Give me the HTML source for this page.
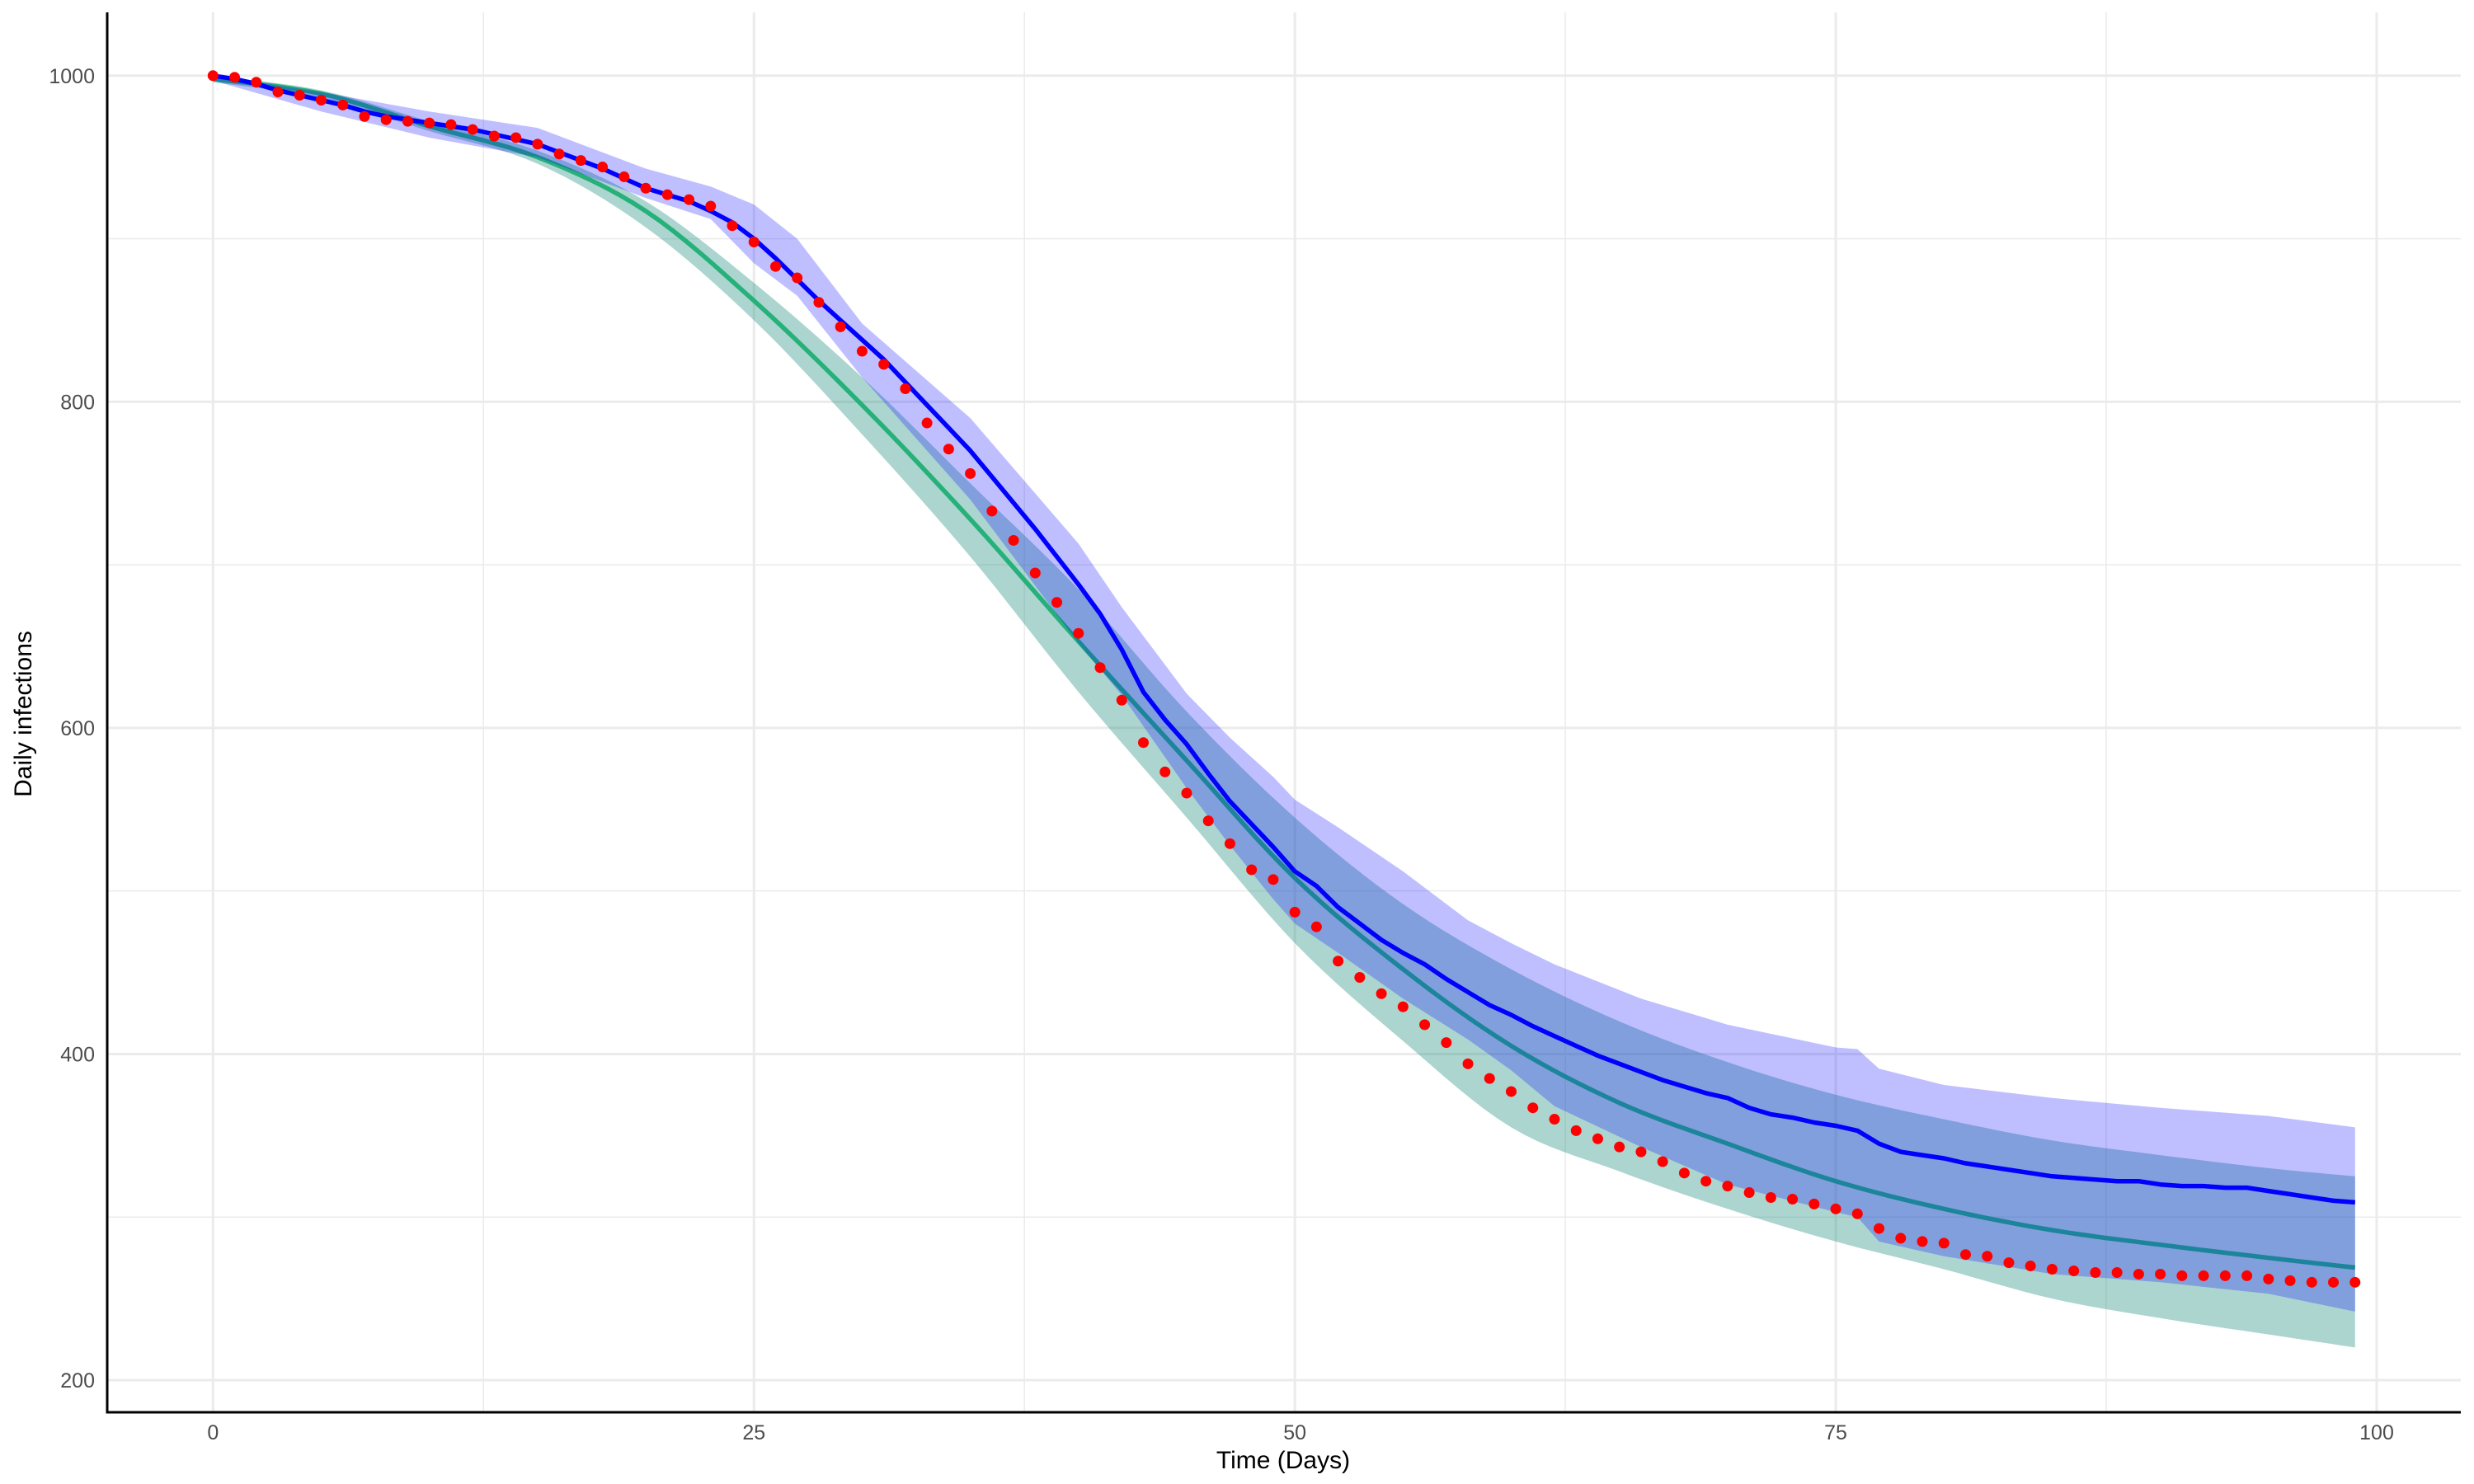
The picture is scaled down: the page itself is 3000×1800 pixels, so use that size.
<!DOCTYPE html>
<html><head><meta charset="utf-8"><style>
html,body{margin:0;padding:0;background:#fff}
svg{display:block}
text{font-family:"Liberation Sans",Arial,sans-serif}
</style></head><body>
<svg id="chart" width="3000" height="1800" viewBox="0 0 3000 1800" xmlns="http://www.w3.org/2000/svg">
<g id="grid"></g>
<g id="series"></g>
<g id="axes"></g>
</svg>
<script>
const days = Array.from({length:100},(_,i)=>i);
const observed = [1000,999,996,990,988,985,982,975,973,972,971,970,967,963,962,958,952,948,944,938,931,927,924,920,908,898,883,876,861,846,831,823,808,787,771,756,733,715,695,677,658,637,617,591,573,560,543,529,513,507,487,478,457,447,437,429,418,407,394,385,377,367,360,353,348,343,340,334,327,322,319,315,312,311,308,305,302,293,287,285,284,277,276,272,270,268,267,266,266,265,265,264,264,264,264,262,261,260,260,260];
const modelMean = [1000,998,995,991,988,985,982,978,975,973,971,969,967,964,961,958,953,948,943,937,931,927,923,917,910,900,888,875,862,850,838,826,812,798,784,770,754,738,722,705,688,670,648,622,605,590,572,555,541,527,512,503,490,480,470,462,455,446,438,430,424,417,411,405,399,394,389,384,380,376,373,367,363,361,358,356,353,345,340,338,336,333,331,329,327,325,324,323,322,322,320,319,319,318,318,316,314,312,310,309];
const ribbonDays = [0,5,10,15,20,23,25,27,30,35,40,42,45,47,49,50,52,55,58,60,62,66,70,75,76,77,80,85,90,95,99];
const modelUpper = [1000,990,978,968,943,932,921,900,848,790,713,674,621,594,570,556,539,512,482,468,455,434,418,404,403,391,381,373,367,362,355];
const modelLower = [997,978,962,950,925,912,885,865,815,740,652,620,563,528,495,480,462,434,409,390,368,343,320,303,300,285,276,265,260,253,242];
const smoothDays = [0,5,10,15,20,25,30,35,40,45,50,55,60,65,70,75,80,85,90,95,99];
const smoothMean = [998,989,969,950,917,862,798,728,653,580,508,452,405,370,345,322,305,292,283,275,269];
const smoothUpper = [1000,991,972,954,923,873,815,750,685,610,545,492,452,420,395,375,360,347,338,330,325];
const smoothLower = [996,986,966,946,907,850,780,705,622,545,468,408,355,328,305,285,268,250,238,228,220];
const xTicks = [0,25,50,75,100];
const yTicks = [200,400,600,800,1000];

const NS='http://www.w3.org/2000/svg';
const X = d => 258.3 + d*(2882-258.3)/100;
const Y = v => 1674 - (v-200)*(1674-91.8)/800;
const PL=130, PR=2984, PT=15, PB=1713;
function mk(tag, parent, attrs){const e=document.createElementNS(NS,tag);for(const k in attrs)e.setAttribute(k,attrs[k]);parent.appendChild(e);return e;}
function linPath(xs,ys){return xs.map((d,i)=>(i?'L':'M')+X(d).toFixed(1)+','+Y(ys[i]).toFixed(1)).join('');}
function smoothPts(xs,ys){const pts=[];for(let i=0;i<xs.length-1;i++){const p0=i?i-1:0,p3=i+2<xs.length?i+2:i+1;for(let s=0;s<8;s++){const t=s/8,t2=t*t,t3=t2*t;const f=(a,b,c,d)=>0.5*(2*b+(-a+c)*t+(2*a-5*b+4*c-d)*t2+(-a+3*b-3*c+d)*t3);pts.push([f(xs[p0],xs[i],xs[i+1],xs[p3]),f(ys[p0],ys[i],ys[i+1],ys[p3])]);}}pts.push([xs[xs.length-1],ys[ys.length-1]]);return pts;}
function ptsPath(pts){return pts.map((p,i)=>(i?'L':'M')+X(p[0]).toFixed(1)+','+Y(p[1]).toFixed(1)).join('');}

const grid=document.getElementById('grid');
for(let v=300;v<=900;v+=200){const l=mk('line',grid,{x1:PL,x2:PR,y1:Y(v),y2:Y(v),stroke:'#ebebeb','stroke-width':1.5});

}
for(let d=12.5;d<100;d+=25){const l=mk('line',grid,{x1:X(d),x2:X(d),y1:PT,y2:PB,stroke:'#ebebeb','stroke-width':1.5});

}
yTicks.forEach(v=>{const l=mk('line',grid,{x1:PL,x2:PR,y1:Y(v),y2:Y(v),stroke:'#ebebeb','stroke-width':3});

});
xTicks.forEach(d=>{const l=mk('line',grid,{x1:X(d),x2:X(d),y1:PT,y2:PB,stroke:'#ebebeb','stroke-width':3});

});

const ser=document.getElementById('series');
const up=smoothPts(smoothDays,smoothUpper), lo=smoothPts(smoothDays,smoothLower).reverse();
const gr=mk('path',ser,{d:ptsPath(up.concat(lo))+'Z',fill:'rgba(31,141,128,0.37)'});


const gl=mk('path',ser,{d:ptsPath(smoothPts(smoothDays,smoothMean)),fill:'none',stroke:'rgb(38,176,122)','stroke-width':5.5,'stroke-linejoin':'round'});


const pr=mk('path',ser,{d:linPath(ribbonDays,modelUpper)+linPath(ribbonDays.slice().reverse(),modelLower.slice().reverse()).replace('M','L')+'Z',fill:'rgba(0,0,255,0.25)'});


const bl=mk('path',ser,{d:linPath(days,modelMean),fill:'none',stroke:'#0000ff','stroke-width':5.5,'stroke-linejoin':'round'});


observed.forEach((v,i)=>{const c=mk('circle',ser,{cx:X(days[i]),cy:Y(v),r:6.5,fill:'#ff0000'});

});

const ax=document.getElementById('axes');
const la=mk('line',ax,{x1:PL,x2:PL,y1:PT,y2:PB+1.5,stroke:'#000','stroke-width':3});


const ba=mk('line',ax,{x1:PL-1.5,x2:PR,y1:PB,y2:PB,stroke:'#000','stroke-width':3});


yTicks.forEach(v=>{const t=mk('text',ax,{x:115,y:Y(v)+9,'text-anchor':'end','font-size':25,fill:'#4d4d4d'});t.textContent=v;

});
xTicks.forEach(d=>{const t=mk('text',ax,{x:X(d),y:1746,'text-anchor':'middle','font-size':25,fill:'#4d4d4d'});t.textContent=d;

});
const xt=mk('text',ax,{x:1556,y:1781,'text-anchor':'middle','font-size':30,fill:'#000'});xt.textContent='Time (Days)';


const yt=mk('text',ax,{x:0,y:0,'text-anchor':'middle','font-size':30,fill:'#000',transform:'translate(38,866) rotate(-90)'});yt.textContent='Daily infections';


</script>
</body></html>
